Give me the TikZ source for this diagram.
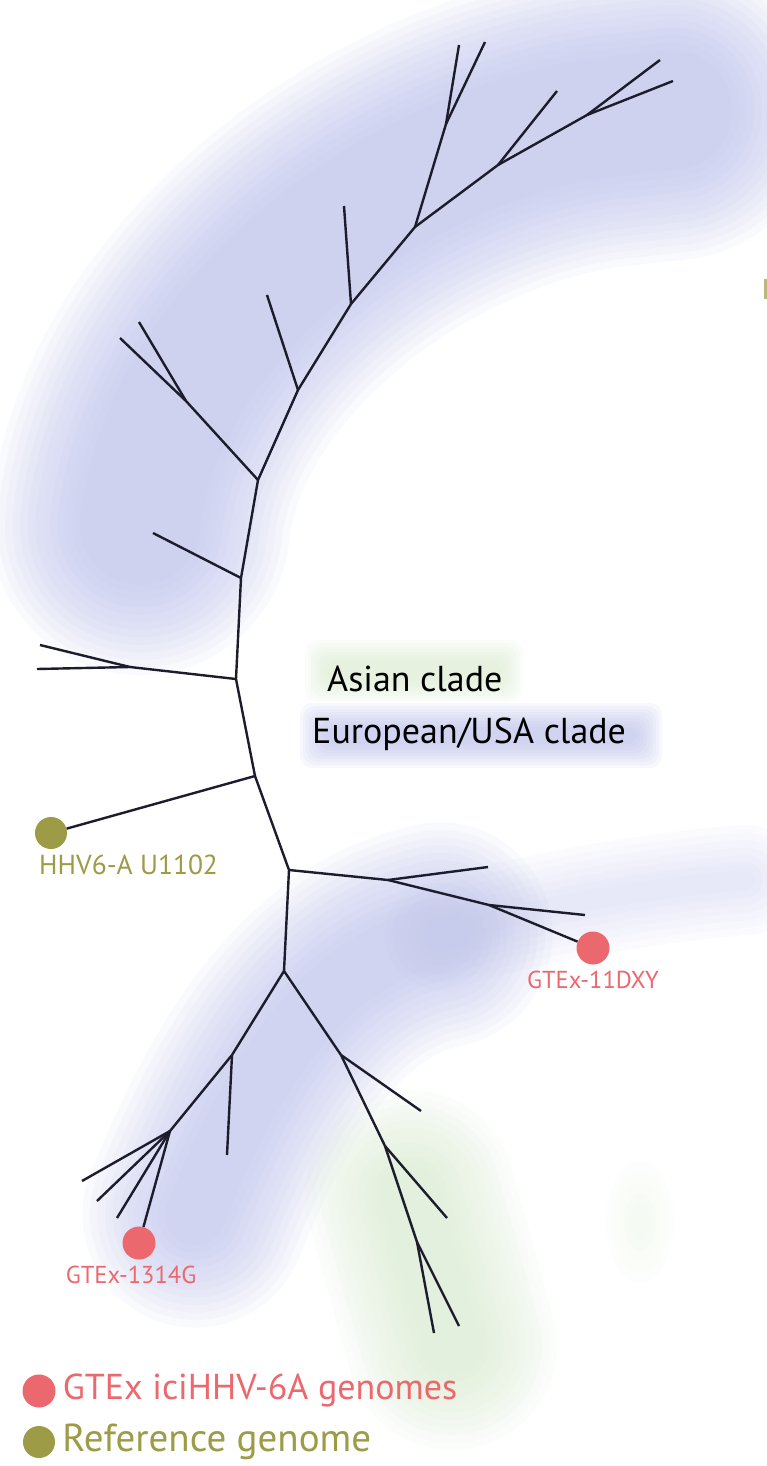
\documentclass[tikz,border=0pt]{standalone}
\usepackage{fontspec}
\setmainfont{PT Sans}
\usetikzlibrary{positioning}
\definecolor{treeline}{RGB}{28,28,45}
\definecolor{redpt}{RGB}{234,104,110}
\definecolor{olivept}{RGB}{157,155,70}
\definecolor{glowblue}{RGB}{185,190,236}
\definecolor{glowgreen}{RGB}{212,234,200}
\begin{document}
\begin{tikzpicture}[x=1pt, y=-1pt,
    branch/.style={draw=treeline, line width=2.4pt, line join=round},
    glowband/.style={line cap=round, line join=round, opacity=0.075},
    gtexdot/.style={circle, fill=redpt, inner sep=0pt, minimum size=33pt},
    refdot/.style={circle, fill=olivept, inner sep=0pt, minimum size=32pt},
    leaflabel/.style={inner sep=0pt, font=\fontsize{24.5}{30}\selectfont},
    cladelabel/.style={inner sep=0pt, font=\fontsize{36}{42}\selectfont}]
    \useasboundingbox (0,0) rectangle (767,1466);
    \fill[white] (0,0) rectangle (767,1466);
    % European/USA glow, upper arc
    \foreach \w in {120,135,...,300}
        \draw[glowblue, glowband, line width=\w] (140,525) .. controls (160,330) and (380,150) .. (600,118) -- (672,110);
    % European/USA glow, lower tree
    \foreach \w in {60,75,...,225}
        \draw[glowblue, glowband, line width=\w] (195,1215) .. controls (250,1080) and (320,960) .. (440,935);
    \foreach \w in {20,35,...,110}
        \draw[glowblue, glowband, opacity=0.05, line width=\w] (440,935) .. controls (560,900) and (680,885) .. (745,880);
    % Asian glow
    \foreach \w in {60,75,...,210}
        \draw[glowgreen, glowband, opacity=0.07, line width=\w] (410,1195) -- (452,1345);
    \foreach \r in {10,16,...,34}
        \fill[glowgreen, opacity=0.04] (640,1222) ellipse [x radius=\r pt, y radius=1.8*\r pt];
    % clade key glows
    \foreach \i in {0,3,...,21}
        \fill[glowgreen, opacity=0.09, rounded corners=12pt] (305+\i,640+\i) rectangle (523-\i,702-\i);
    \foreach \i in {0,3,...,24}
        \fill[glowblue, opacity=0.1, rounded corners=12pt] (300+\i,703+\i) rectangle (662-\i,768-\i);
    \fill[olivept!70] (764,279) rectangle (767,299);

    % spine
    \coordinate (sA) at (284,971);
    \coordinate (sB) at (289,870);
    \coordinate (sC) at (255,776);
    \coordinate (sD) at (236,679);
    \coordinate (sE) at (241,578);
    \coordinate (sF) at (258,480);
    \coordinate (sG) at (298,390);
    \coordinate (sH) at (351,304);
    \coordinate (sI) at (415,227);
    \coordinate (sJ) at (498,165);
    \coordinate (sK) at (587,115);
    % upper clade: inner forks and tips
    \coordinate (k1) at (660,60);
    \coordinate (k2) at (673,81);
    \coordinate (j1) at (557,91);
    \coordinate (iJ) at (446,124);
    \coordinate (i1) at (459,45);
    \coordinate (i2) at (485,42);
    \coordinate (h1) at (344,206);
    \coordinate (g1) at (267,295);
    \coordinate (fJ) at (186,401);
    \coordinate (f1) at (120,338);
    \coordinate (f2) at (139,322);
    \coordinate (e1) at (153,533);
    \coordinate (dJ) at (130,667);
    \coordinate (d1) at (40,645);
    \coordinate (d2) at (37,669);
    % right clade
    \coordinate (bJ1) at (388,880);
    \coordinate (b1) at (488,867);
    \coordinate (bJ2) at (489,905);
    \coordinate (b2) at (585,915);
    % lower clade
    \coordinate (lA) at (232,1055);
    \coordinate (l1) at (227,1155);
    \coordinate (lB) at (170,1131);
    \coordinate (l2) at (82,1181);
    \coordinate (l3) at (97,1201);
    \coordinate (l4) at (117,1218);
    \coordinate (rA) at (341,1055);
    \coordinate (r1) at (421,1111);
    \coordinate (rB) at (385,1146);
    \coordinate (r2) at (447,1218);
    \coordinate (rC) at (417,1242);
    \coordinate (r3) at (434,1333);
    \coordinate (r4) at (459,1326);

    % genomes
    \node[refdot] (u1102) at (51,833) {};
    \node[gtexdot] (dxy) at (593,948) {};
    \node[gtexdot] (g1314) at (139,1243) {};

    \draw[branch] (sA) -- (sB) -- (sC) -- (sD) -- (sE) -- (sF) -- (sG) -- (sH) -- (sI) -- (sJ) -- (sK) -- (k2);
    \foreach \a/\b in {sK/k1, sJ/j1, sI/iJ, iJ/i1, iJ/i2, sH/h1, sG/g1, sF/fJ, fJ/f1, fJ/f2,
        sE/e1, sD/dJ, dJ/d1, dJ/d2, sB/bJ1, bJ1/b1, bJ1/bJ2, bJ2/b2, sA/lA, lA/l1, lA/lB,
        lB/l2, lB/l3, lB/l4, sA/rA, rA/r1, rA/rB, rB/r2, rB/rC, rC/r3, rC/r4}
        \draw[branch] (\a) -- (\b);
    \draw[branch] (sC) -- (u1102);
    \draw[branch] (bJ2) -- (dxy);
    \draw[branch] (lB) -- (g1314);

    % labels
    \node[leaflabel, text=olivept, anchor=north west, font=\fontsize{27.5}{32}\selectfont] (u1102lbl) at (39,855) {HHV6-A U1102};
    \node[leaflabel, text=redpt, below=6pt of dxy] (dxylbl) {GTEx-11DXY};
    \node[leaflabel, text=redpt, below=6pt of g1314, xshift=-8pt] (g1314lbl) {GTEx-1314G};
    \node[cladelabel, anchor=base west] (asian) at (327,691) {Asian clade};
    \node[cladelabel, anchor=base west] (euro) at (312,743) {European/USA clade};

    % Legend
    \node[gtexdot] (legred) at (39,1391) {};
    \node[cladelabel, text=redpt, right=7pt of legred, yshift=1pt] (legredtxt) {GTEx iciHHV-6A genomes};
    \node[refdot] (legref) at (39,1442) {};
    \node[cladelabel, text=olivept, right=7pt of legref, font=\fontsize{39}{44}\selectfont] (legreftxt) {Reference genome};
\end{tikzpicture}
\end{document}
